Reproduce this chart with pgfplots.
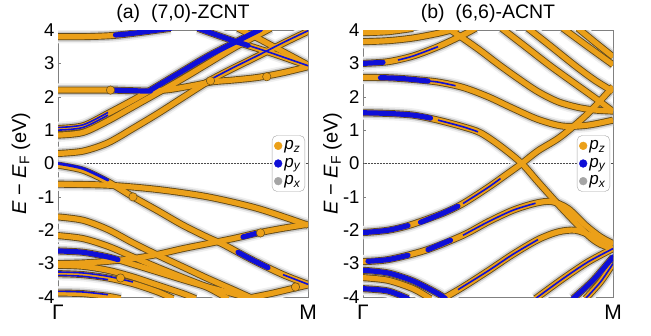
\documentclass[border=0pt]{standalone}
\usepackage{pgfplots}
\pgfplotsset{compat=1.18}
\usepackage{fontspec}
\setmainfont{Liberation Sans}
\definecolor{pzor}{RGB}{235,160,25}
\definecolor{pyblue}{RGB}{15,15,215}
\definecolor{pxgray}{RGB}{165,165,165}
\definecolor{outl}{RGB}{100,75,25}
\pgfplotsset{
 h1/.style={no marks, smooth, line width=13.5pt, color=gray!12},
 h2/.style={no marks, smooth, line width=10pt, color=gray!42},
 ol/.style={no marks, smooth, line width=7pt, color=outl},
 co/.style={no marks, smooth, line width=5.2pt, color=pzor},
 bt/.style={no marks, smooth, line width=5.2pt, color=pyblue, line cap=round},
 bm/.style={no marks, smooth, line width=2.8pt, color=pyblue, line cap=round},
 bn/.style={no marks, smooth, line width=1.6pt, color=pyblue},
 dot/.style={only marks, mark=*, mark size=4.2pt, color=pzor, mark options={draw=outl, line width=0.5pt}},
 band axis/.style={
  anchor=south west, scale only axis, width=250pt, height=267pt,
  xmin=0, xmax=1, ymin=-4, ymax=4,
  xtick={0,1}, xticklabels={Γ,M},
  ytick={-4,-3,-2,-1,0,1,2,3,4}, yticklabels={-4,-3,-2,-1,0,1,2,3,4},
  ytick pos=left, tick align=inside, major tick length=3pt,
  x tick style={draw=none},
  axis line style={gray, line width=0.8pt}, tick style={gray},
  y tick label style={font=\fontsize{18.5}{18.5}\selectfont},
  x tick label style={font=\fontsize{21}{21}\selectfont, yshift=-5pt},
  title style={font=\fontsize{19.5}{19.5}\selectfont, yshift=-2pt},
  ylabel={{\itshape E} − {\itshape E}\textsubscript{F} (eV)},
  ylabel style={font=\fontsize{20}{20}\selectfont, anchor=center},
  legend style={at={(0.988,0.5)}, anchor=east, draw=gray!70, rounded corners=5pt, fill=white,
   font=\fontsize{17}{17}\selectfont, inner xsep=2pt, inner ysep=3pt, row sep=3pt,
   cells={anchor=west}},
  legend image code/.code={\fill[#1] (0pt,0pt) circle (3.9pt);},
 }
}
\newcommand{\passA}[1]{\addplot[h1] coordinates {#1};}
\newcommand{\passB}[1]{\addplot[h2] coordinates {#1};}
\newcommand{\passC}[1]{\addplot[ol] coordinates {#1};}
\newcommand{\passD}[1]{\addplot[co] coordinates {#1};}
\newcommand{\allpasses}[1]{\let\bb\passA #1\let\bb\passB #1\let\bb\passC #1\let\bb\passD #1}
\newcommand{\bandsA}{%
 \bb{(0,0.30)(0.1,0.37)(0.2,0.62)(0.3,1.05)(0.4,1.5)(0.5,1.98)(0.61,2.5)(0.7,2.85)(0.8,3.22)(0.9,3.6)(1,3.96)}%
 \bb{(0,0.85)(0.1,0.93)(0.2,1.28)(0.3,1.7)(0.4,2.12)(0.5,2.55)(0.6,3.0)(0.7,3.45)(0.8,3.85)(0.85,4.05)}%
 \bb{(0,1.05)(0.1,1.13)(0.2,1.5)(0.3,1.9)(0.37,2.2)(0.5,2.78)(0.6,3.22)(0.715,3.66)(0.81,4.02)}%
 \bb{(0,2.2)(0.1,2.2)(0.21,2.2)(0.3,2.18)(0.37,2.17)(0.45,2.22)(0.55,2.35)(0.62,2.45)(0.7,2.5)(0.8,2.58)(0.9,2.72)(1,2.9)}%
 \bb{(0,3.8)(0.1,3.8)(0.21,3.83)(0.3,3.9)(0.4,4.0)(0.45,4.05)}%
 \bb{(0.56,4.05)(0.7,3.68)(0.85,3.32)(1,2.93)}%
 \bb{(0.72,4.05)(0.8,3.75)(0.9,3.35)(1,2.95)}%
 \bb{(0,-0.05)(0.1,-0.2)(0.2,-0.55)(0.3,-1.0)(0.4,-1.42)(0.5,-1.85)(0.6,-2.22)(0.66,-2.42)(0.78,-2.9)(0.9,-3.33)(1,-3.62)}%
 \bb{(0,-0.62)(0.2,-0.65)(0.4,-0.78)(0.6,-1.0)(0.8,-1.35)(1,-1.85)}%
 \bb{(0,-1.6)(0.1,-1.7)(0.2,-1.98)(0.3,-2.38)(0.4,-2.75)(0.5,-3.1)(0.6,-3.45)(0.7,-3.78)(0.78,-4.05)}%
 \bb{(0,-3.0)(0.1,-2.98)(0.2,-2.93)(0.3,-2.85)(0.4,-2.72)(0.5,-2.55)(0.6,-2.4)(0.7,-2.25)(0.8,-2.08)(0.9,-1.94)(1,-1.82)}%
 \bb{(0,-2.16)(0.1,-2.25)(0.2,-2.48)(0.3,-2.8)(0.4,-3.12)(0.5,-3.42)(0.6,-3.72)(0.68,-4.05)}%
 \bb{(0,-2.62)(0.1,-2.66)(0.2,-2.8)(0.3,-3.02)(0.4,-3.25)(0.5,-3.48)(0.6,-3.7)(0.7,-3.9)(0.77,-4.05)}%
 \bb{(0,-3.05)(0.1,-3.08)(0.2,-3.2)(0.3,-3.4)(0.4,-3.65)(0.5,-3.9)(0.55,-4.05)}%
 \bb{(0,-3.3)(0.1,-3.33)(0.2,-3.43)(0.3,-3.6)(0.4,-3.85)(0.46,-4.05)}%
 \bb{(0,-3.88)(0.1,-3.9)(0.2,-3.98)(0.25,-4.05)}%
 \bb{(0.75,-4.05)(0.85,-3.9)(0.93,-3.76)(1,-3.64)}%
}
\newcommand{\bandsB}{%
 \bb{(0,3.92)(0.1,3.95)(0.2,4.05)}%
 \bb{(0,3.65)(0.1,3.68)(0.2,3.76)(0.3,3.9)(0.38,4.05)}%
 \bb{(0,3.0)(0.1,3.05)(0.2,3.22)(0.3,3.5)(0.4,3.85)(0.45,4.05)}%
 \bb{(0,2.58)(0.1,2.57)(0.2,2.52)(0.3,2.44)(0.4,2.28)(0.5,2.0)(0.6,1.65)(0.7,1.32)(0.8,1.12)(0.9,1.15)(1,1.3)}%
 \bb{(0.34,4.05)(0.4,3.75)(0.47,3.38)(0.54,2.98)(0.62,2.55)(0.7,2.15)(0.78,1.85)(0.86,1.68)(0.93,1.6)(1,1.57)}%
 \bb{(0.555,4.05)(0.65,3.5)(0.75,2.92)(0.85,2.38)(0.93,1.95)(1,1.56)}%
 \bb{(0.66,4.05)(0.75,3.52)(0.85,2.92)(0.93,2.48)(1,2.16)}%
 \bb{(0.8,4.05)(0.9,3.5)(1,2.96)}%
 \bb{(0.86,4.05)(0.93,3.62)(1,3.2)}%
 \bb{(0,1.52)(0.1,1.5)(0.2,1.45)(0.3,1.3)(0.4,1.1)(0.47,0.92)(0.55,0.52)(0.635,0)(0.7,-0.55)(0.8,-1.38)(0.9,-2.15)(0.95,-2.42)(1,-2.55)}%
 \bb{(0,-2.07)(0.1,-2.0)(0.19,-1.84)(0.32,-1.49)(0.4,-1.2)(0.5,-0.72)(0.57,-0.35)(0.635,0)(0.7,0.38)(0.79,0.8)(0.9,1.5)(1,2.3)}%
 \bb{(0,-2.94)(0.1,-2.88)(0.25,-2.6)(0.4,-2.15)(0.5,-1.75)(0.6,-1.4)(0.69,-1.19)(0.755,-1.14)(0.82,-1.35)(0.89,-1.85)(0.95,-2.2)(1,-2.4)}%
 \bb{(0.32,-4.05)(0.4,-3.7)(0.5,-3.22)(0.6,-2.72)(0.7,-2.28)(0.78,-2.05)(0.85,-2.0)(0.92,-2.18)(1,-2.42)}%
 \bb{(0.69,-4.05)(0.8,-3.45)(0.9,-2.95)(1,-2.55)}%
 \bb{(0.84,-4.05)(0.92,-3.5)(1,-2.8)}%
 \bb{(0.89,-4.05)(0.95,-3.55)(1,-3.0)}%
 \bb{(0,-3.2)(0.1,-3.28)(0.2,-3.52)(0.3,-3.9)(0.33,-4.05)}%
 \bb{(0,-3.42)(0.1,-3.5)(0.2,-3.75)(0.27,-4.05)}%
 \bb{(0,-3.75)(0.1,-3.82)(0.18,-4.05)}%
}
\begin{document}
\begin{tikzpicture}
\path[use as bounding box] (0pt,0pt) rectangle (651pt,335pt);
% ---------------- (a)
\begin{axis}[band axis, at={(58pt,38pt)}, title={(a)\ \ (7,0)-ZCNT},
  ylabel style={at={(axis description cs:-0.148,0.5)}}]
\addlegendimage{pzor}
\addlegendimage{pyblue}
\addlegendimage{pxgray}
\addplot[densely dotted, black!70, line width=0.5pt] coordinates {(0,0) (1,0)};
\allpasses{\bandsA}
% p_y (blue) parts
\addplot[bt] coordinates {(0.22,2.2)(0.3,2.18)(0.37,2.17)};
\addplot[bt] coordinates {(0.37,2.2)(0.5,2.78)(0.6,3.22)(0.715,3.66)(0.81,4.02)};
\addplot[bt] coordinates {(0.23,3.85)(0.3,3.9)(0.4,4.0)(0.45,4.05)};
\addplot[bt] coordinates {(0.56,4.05)(0.7,3.68)(0.76,3.54)};
\addplot[bn] coordinates {(0.61,2.52)(0.7,2.87)(0.8,3.24)(0.9,3.62)(1,3.98)};
\addplot[bn] coordinates {(0,1.08)(0.1,1.16)(0.2,1.53)};
\addplot[bn] coordinates {(0,1.0)(0.1,1.08)(0.2,1.45)};
\addplot[bn] coordinates {(0.76,3.54)(0.85,3.32)(1,2.93)};
\addplot[bm] coordinates {(0,0.0)(0.1,-0.15)(0.2,-0.5)};
\addplot[bt] coordinates {(0.72,-2.66)(0.78,-2.9)(0.84,-3.12)};
\addplot[bn] coordinates {(0.9,-3.33)(1,-3.62)};
\addplot[bt] coordinates {(0.74,-2.2)(0.79,-2.1)};
\addplot[bt] coordinates {(0,-2.62)(0.1,-2.66)(0.2,-2.8)(0.24,-2.88)};
\addplot[bn] coordinates {(0,-3.25)(0.1,-3.28)(0.2,-3.38)(0.3,-3.55)};
\addplot[bn] coordinates {(0,-3.35)(0.1,-3.38)(0.2,-3.48)};
\addplot[bn] coordinates {(0,-3.83)(0.1,-3.85)(0.2,-3.93)};
\addplot[dot] coordinates {(0.21,2.2)(0.61,2.48)(0.835,2.6)(0.25,-3.43)(0.81,-2.08)(0.95,-3.7)(0.3,-1.0)};
\legend{\textit{p}\textsubscript{\textit{z}},\textit{p}\textsubscript{\textit{y}},\textit{p}\textsubscript{\textit{x}}}
\end{axis}
% ---------------- (b)
\begin{axis}[band axis, at={(363pt,38pt)}, title={(b)\ \ (6,6)-ACNT},
  ylabel style={at={(axis description cs:-0.122,0.5)}}]
\addlegendimage{pzor}
\addlegendimage{pyblue}
\addlegendimage{pxgray}
\addplot[densely dotted, black!70, line width=0.5pt] coordinates {(0,0) (1,0)};
\allpasses{\bandsB}
% p_y (blue) parts
\addplot[bt] coordinates {(0,3.0)(0.08,3.03)};
\addplot[bn] coordinates {(0.14,3.1)(0.2,3.22)(0.3,3.5)};
\addplot[bt] coordinates {(0.07,2.57)(0.15,2.55)(0.26,2.47)};
\addplot[bn] coordinates {(0.26,2.47)(0.3,2.44)(0.37,2.33)};
\addplot[bt] coordinates {(0,1.52)(0.1,1.5)(0.2,1.45)(0.27,1.36)};
\addplot[bn] coordinates {(0.3,1.3)(0.4,1.1)(0.46,0.95)};
\addplot[bt] coordinates {(0,-2.07)(0.1,-2.0)(0.18,-1.86)};
\addplot[bt] coordinates {(0.23,-1.76)(0.32,-1.49)(0.38,-1.28)};
\addplot[bn] coordinates {(0.4,-1.2)(0.5,-0.72)(0.55,-0.45)};
\addplot[bt] coordinates {(0.02,-2.93)(0.1,-2.88)(0.18,-2.75)};
\addplot[bt] coordinates {(0.26,-2.58)(0.35,-2.3)};
\addplot[bn] coordinates {(0.4,-2.15)(0.5,-1.75)(0.6,-1.4)(0.69,-1.19)};
\addplot[bn] coordinates {(0.38,-3.78)(0.5,-3.22)(0.6,-2.72)(0.7,-2.28)};
\addplot[bn] coordinates {(0.69,-4.05)(0.8,-3.45)(0.9,-2.95)(1,-2.55)};
\addplot[bt] coordinates {(0.84,-4.05)(0.92,-3.5)(1,-2.8)};
\addplot[bn] coordinates {(0.89,-4.05)(0.95,-3.55)(1,-3.0)};
\addplot[bt] coordinates {(0,-3.2)(0.1,-3.28)(0.2,-3.52)(0.3,-3.9)(0.33,-4.05)};
\addplot[bt] coordinates {(0,-3.75)(0.1,-3.82)(0.18,-4.05)};
\legend{\textit{p}\textsubscript{\textit{z}},\textit{p}\textsubscript{\textit{y}},\textit{p}\textsubscript{\textit{x}}}
\end{axis}
\end{tikzpicture}
\end{document}
